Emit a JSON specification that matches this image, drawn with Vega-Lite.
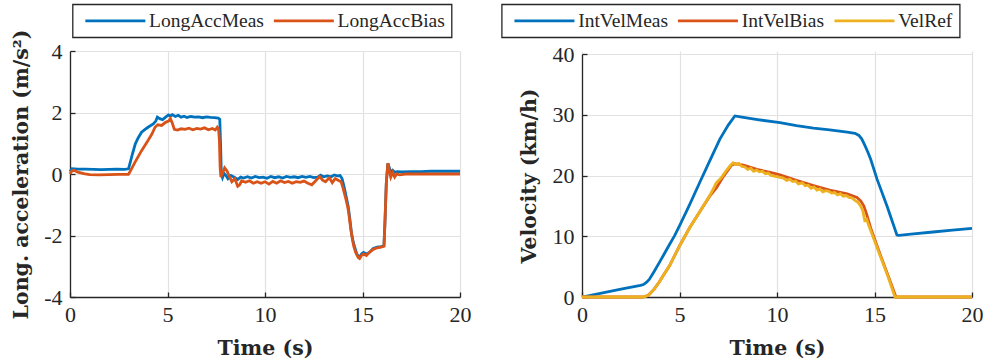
{
  "$schema": "https://vega.github.io/schema/vega-lite/v6.json",
  "background": "white",
  "padding": {"left": 11, "top": 3, "right": 5, "bottom": 0},
  "spacing": 30,
  "config": {
    "view": {"stroke": null},
    "axis": {
      "labelFont": "Liberation Serif", "labelFontSize": 22, "labelColor": "#262626",
      "titleFont": "DejaVu Serif", "titleFontWeight": "bold", "titleFontSize": 20.5, "titleColor": "#262626",
      "domainColor": "#262626", "domainWidth": 1.3, "tickColor": "#262626", "tickWidth": 1.3, "tickSize": -5,
      "gridColor": "#e2e2e2", "gridWidth": 1.2, "labelFlush": false, "labelOverlap": false
    },
    "axisX": {"labelPadding": 12, "titlePadding": 13},
    "axisY": {"labelPadding": 13, "titlePadding": 12.5},
    "legend": {
      "orient": "none", "direction": "horizontal",
      "labelFont": "Liberation Serif", "labelFontSize": 19.5, "labelColor": "#262626",
      "symbolType": "M-0.5,0H8.07", "symbolSize": 196, "symbolStrokeWidth": 3,
      "labelOffset": 50.5, "columnPadding": 3.5, "padding": 6.5,
      "strokeColor": "#262626", "fillColor": "white", "strokeWidth": 1.3, "title": null
    },
    "line": {"strokeWidth": 2.8}
  },
  "datasets": {
    "acc": [
      {"time":0,"value":0.08,"series":"LongAccMeas"},{"time":0.1,"value":0.17,"series":"LongAccMeas"},{"time":0.4,"value":0.16,"series":"LongAccMeas"},{"time":0.8,"value":0.16,"series":"LongAccMeas"},{"time":1.2,"value":0.15,"series":"LongAccMeas"},{"time":1.6,"value":0.14,"series":"LongAccMeas"},{"time":2.0,"value":0.15,"series":"LongAccMeas"},{"time":2.4,"value":0.16,"series":"LongAccMeas"},{"time":2.8,"value":0.15,"series":"LongAccMeas"},{"time":3.0,"value":0.17,"series":"LongAccMeas"},{"time":3.1,"value":0.4,"series":"LongAccMeas"},{"time":3.2,"value":0.65,"series":"LongAccMeas"},{"time":3.35,"value":0.98,"series":"LongAccMeas"},{"time":3.5,"value":1.18,"series":"LongAccMeas"},{"time":3.67,"value":1.36,"series":"LongAccMeas"},{"time":3.85,"value":1.45,"series":"LongAccMeas"},{"time":4.0,"value":1.52,"series":"LongAccMeas"},{"time":4.27,"value":1.63,"series":"LongAccMeas"},{"time":4.4,"value":1.72,"series":"LongAccMeas"},{"time":4.48,"value":1.85,"series":"LongAccMeas"},{"time":4.6,"value":1.8,"series":"LongAccMeas"},{"time":4.75,"value":1.77,"series":"LongAccMeas"},{"time":4.9,"value":1.85,"series":"LongAccMeas"},{"time":5.05,"value":1.92,"series":"LongAccMeas"},{"time":5.15,"value":1.88,"series":"LongAccMeas"},{"time":5.25,"value":1.93,"series":"LongAccMeas"},{"time":5.4,"value":1.87,"series":"LongAccMeas"},{"time":5.55,"value":1.91,"series":"LongAccMeas"},{"time":5.7,"value":1.85,"series":"LongAccMeas"},{"time":5.85,"value":1.88,"series":"LongAccMeas"},{"time":6.0,"value":1.84,"series":"LongAccMeas"},{"time":6.2,"value":1.87,"series":"LongAccMeas"},{"time":6.4,"value":1.85,"series":"LongAccMeas"},{"time":6.6,"value":1.86,"series":"LongAccMeas"},{"time":6.8,"value":1.83,"series":"LongAccMeas"},{"time":7.0,"value":1.86,"series":"LongAccMeas"},{"time":7.2,"value":1.84,"series":"LongAccMeas"},{"time":7.4,"value":1.83,"series":"LongAccMeas"},{"time":7.6,"value":1.82,"series":"LongAccMeas"},{"time":7.68,"value":1.78,"series":"LongAccMeas"},{"time":7.72,"value":1.0,"series":"LongAccMeas"},{"time":7.76,"value":0.0,"series":"LongAccMeas"},{"time":7.82,"value":-0.12,"series":"LongAccMeas"},{"time":7.9,"value":0.02,"series":"LongAccMeas"},{"time":8.0,"value":-0.05,"series":"LongAccMeas"},{"time":8.1,"value":-0.15,"series":"LongAccMeas"},{"time":8.25,"value":-0.05,"series":"LongAccMeas"},{"time":8.4,"value":-0.1,"series":"LongAccMeas"},{"time":8.6,"value":-0.18,"series":"LongAccMeas"},{"time":8.75,"value":-0.1,"series":"LongAccMeas"},{"time":8.9,"value":-0.13,"series":"LongAccMeas"},{"time":9.1,"value":-0.09,"series":"LongAccMeas"},{"time":9.3,"value":-0.13,"series":"LongAccMeas"},{"time":9.5,"value":-0.08,"series":"LongAccMeas"},{"time":9.7,"value":-0.12,"series":"LongAccMeas"},{"time":9.9,"value":-0.1,"series":"LongAccMeas"},{"time":10.1,"value":-0.14,"series":"LongAccMeas"},{"time":10.3,"value":-0.08,"series":"LongAccMeas"},{"time":10.5,"value":-0.12,"series":"LongAccMeas"},{"time":10.7,"value":-0.09,"series":"LongAccMeas"},{"time":10.9,"value":-0.13,"series":"LongAccMeas"},{"time":11.1,"value":-0.08,"series":"LongAccMeas"},{"time":11.3,"value":-0.11,"series":"LongAccMeas"},{"time":11.5,"value":-0.09,"series":"LongAccMeas"},{"time":11.7,"value":-0.12,"series":"LongAccMeas"},{"time":11.9,"value":-0.08,"series":"LongAccMeas"},{"time":12.1,"value":-0.11,"series":"LongAccMeas"},{"time":12.3,"value":-0.08,"series":"LongAccMeas"},{"time":12.5,"value":-0.12,"series":"LongAccMeas"},{"time":12.7,"value":-0.1,"series":"LongAccMeas"},{"time":12.85,"value":-0.04,"series":"LongAccMeas"},{"time":13.0,"value":-0.09,"series":"LongAccMeas"},{"time":13.2,"value":-0.06,"series":"LongAccMeas"},{"time":13.4,"value":-0.09,"series":"LongAccMeas"},{"time":13.55,"value":-0.03,"series":"LongAccMeas"},{"time":13.7,"value":-0.06,"series":"LongAccMeas"},{"time":13.85,"value":-0.05,"series":"LongAccMeas"},{"time":13.95,"value":-0.15,"series":"LongAccMeas"},{"time":14.05,"value":-0.4,"series":"LongAccMeas"},{"time":14.15,"value":-0.7,"series":"LongAccMeas"},{"time":14.26,"value":-1.03,"series":"LongAccMeas"},{"time":14.35,"value":-1.45,"series":"LongAccMeas"},{"time":14.43,"value":-1.9,"series":"LongAccMeas"},{"time":14.52,"value":-2.2,"series":"LongAccMeas"},{"time":14.6,"value":-2.38,"series":"LongAccMeas"},{"time":14.72,"value":-2.62,"series":"LongAccMeas"},{"time":14.85,"value":-2.71,"series":"LongAccMeas"},{"time":14.95,"value":-2.6,"series":"LongAccMeas"},{"time":15.05,"value":-2.55,"series":"LongAccMeas"},{"time":15.2,"value":-2.6,"series":"LongAccMeas"},{"time":15.35,"value":-2.55,"series":"LongAccMeas"},{"time":15.55,"value":-2.42,"series":"LongAccMeas"},{"time":15.75,"value":-2.38,"series":"LongAccMeas"},{"time":15.95,"value":-2.36,"series":"LongAccMeas"},{"time":16.1,"value":-2.33,"series":"LongAccMeas"},{"time":16.15,"value":-1.6,"series":"LongAccMeas"},{"time":16.22,"value":-0.3,"series":"LongAccMeas"},{"time":16.3,"value":0.35,"series":"LongAccMeas"},{"time":16.38,"value":0.2,"series":"LongAccMeas"},{"time":16.45,"value":0.05,"series":"LongAccMeas"},{"time":16.55,"value":0.12,"series":"LongAccMeas"},{"time":16.65,"value":0.06,"series":"LongAccMeas"},{"time":16.8,"value":0.08,"series":"LongAccMeas"},{"time":17.0,"value":0.07,"series":"LongAccMeas"},{"time":17.5,"value":0.08,"series":"LongAccMeas"},{"time":18.0,"value":0.08,"series":"LongAccMeas"},{"time":18.5,"value":0.09,"series":"LongAccMeas"},{"time":19.0,"value":0.09,"series":"LongAccMeas"},{"time":19.5,"value":0.09,"series":"LongAccMeas"},{"time":20.0,"value":0.09,"series":"LongAccMeas"},
      {"time":0,"value":0.0,"series":"LongAccBias"},{"time":0.1,"value":0.1,"series":"LongAccBias"},{"time":0.2,"value":0.12,"series":"LongAccBias"},{"time":0.4,"value":0.06,"series":"LongAccBias"},{"time":0.7,"value":0.01,"series":"LongAccBias"},{"time":1.0,"value":-0.02,"series":"LongAccBias"},{"time":1.5,"value":-0.03,"series":"LongAccBias"},{"time":2.0,"value":-0.02,"series":"LongAccBias"},{"time":2.5,"value":-0.01,"series":"LongAccBias"},{"time":3.0,"value":-0.01,"series":"LongAccBias"},{"time":3.1,"value":0.1,"series":"LongAccBias"},{"time":3.33,"value":0.38,"series":"LongAccBias"},{"time":3.67,"value":0.76,"series":"LongAccBias"},{"time":4.0,"value":1.09,"series":"LongAccBias"},{"time":4.2,"value":1.3,"series":"LongAccBias"},{"time":4.36,"value":1.52,"series":"LongAccBias"},{"time":4.5,"value":1.6,"series":"LongAccBias"},{"time":4.7,"value":1.58,"series":"LongAccBias"},{"time":4.9,"value":1.68,"series":"LongAccBias"},{"time":5.05,"value":1.72,"series":"LongAccBias"},{"time":5.15,"value":1.8,"series":"LongAccBias"},{"time":5.25,"value":1.65,"series":"LongAccBias"},{"time":5.35,"value":1.45,"series":"LongAccBias"},{"time":5.5,"value":1.43,"series":"LongAccBias"},{"time":5.7,"value":1.47,"series":"LongAccBias"},{"time":5.9,"value":1.45,"series":"LongAccBias"},{"time":6.1,"value":1.49,"series":"LongAccBias"},{"time":6.3,"value":1.44,"series":"LongAccBias"},{"time":6.5,"value":1.48,"series":"LongAccBias"},{"time":6.7,"value":1.46,"series":"LongAccBias"},{"time":6.9,"value":1.5,"series":"LongAccBias"},{"time":7.1,"value":1.44,"series":"LongAccBias"},{"time":7.3,"value":1.48,"series":"LongAccBias"},{"time":7.45,"value":1.43,"series":"LongAccBias"},{"time":7.55,"value":1.52,"series":"LongAccBias"},{"time":7.62,"value":1.45,"series":"LongAccBias"},{"time":7.66,"value":1.1,"series":"LongAccBias"},{"time":7.7,"value":0.2,"series":"LongAccBias"},{"time":7.74,"value":-0.1,"series":"LongAccBias"},{"time":7.8,"value":0.0,"series":"LongAccBias"},{"time":7.93,"value":0.2,"series":"LongAccBias"},{"time":8.05,"value":0.1,"series":"LongAccBias"},{"time":8.15,"value":-0.05,"series":"LongAccBias"},{"time":8.3,"value":-0.25,"series":"LongAccBias"},{"time":8.45,"value":-0.15,"series":"LongAccBias"},{"time":8.6,"value":-0.4,"series":"LongAccBias"},{"time":8.7,"value":-0.35,"series":"LongAccBias"},{"time":8.8,"value":-0.22,"series":"LongAccBias"},{"time":9.0,"value":-0.27,"series":"LongAccBias"},{"time":9.2,"value":-0.22,"series":"LongAccBias"},{"time":9.4,"value":-0.3,"series":"LongAccBias"},{"time":9.6,"value":-0.25,"series":"LongAccBias"},{"time":9.8,"value":-0.3,"series":"LongAccBias"},{"time":10.0,"value":-0.25,"series":"LongAccBias"},{"time":10.2,"value":-0.33,"series":"LongAccBias"},{"time":10.4,"value":-0.24,"series":"LongAccBias"},{"time":10.6,"value":-0.3,"series":"LongAccBias"},{"time":10.8,"value":-0.22,"series":"LongAccBias"},{"time":11.0,"value":-0.28,"series":"LongAccBias"},{"time":11.2,"value":-0.24,"series":"LongAccBias"},{"time":11.4,"value":-0.3,"series":"LongAccBias"},{"time":11.6,"value":-0.25,"series":"LongAccBias"},{"time":11.8,"value":-0.27,"series":"LongAccBias"},{"time":12.0,"value":-0.23,"series":"LongAccBias"},{"time":12.2,"value":-0.3,"series":"LongAccBias"},{"time":12.4,"value":-0.35,"series":"LongAccBias"},{"time":12.6,"value":-0.22,"series":"LongAccBias"},{"time":12.8,"value":-0.08,"series":"LongAccBias"},{"time":12.95,"value":-0.2,"series":"LongAccBias"},{"time":13.1,"value":-0.25,"series":"LongAccBias"},{"time":13.3,"value":-0.12,"series":"LongAccBias"},{"time":13.45,"value":-0.28,"series":"LongAccBias"},{"time":13.6,"value":-0.15,"series":"LongAccBias"},{"time":13.75,"value":-0.2,"series":"LongAccBias"},{"time":13.9,"value":-0.25,"series":"LongAccBias"},{"time":14.0,"value":-0.45,"series":"LongAccBias"},{"time":14.1,"value":-0.7,"series":"LongAccBias"},{"time":14.2,"value":-0.95,"series":"LongAccBias"},{"time":14.28,"value":-1.2,"series":"LongAccBias"},{"time":14.36,"value":-1.6,"series":"LongAccBias"},{"time":14.45,"value":-2.0,"series":"LongAccBias"},{"time":14.55,"value":-2.35,"series":"LongAccBias"},{"time":14.65,"value":-2.55,"series":"LongAccBias"},{"time":14.78,"value":-2.72,"series":"LongAccBias"},{"time":14.85,"value":-2.75,"series":"LongAccBias"},{"time":14.95,"value":-2.65,"series":"LongAccBias"},{"time":15.05,"value":-2.6,"series":"LongAccBias"},{"time":15.2,"value":-2.65,"series":"LongAccBias"},{"time":15.35,"value":-2.55,"series":"LongAccBias"},{"time":15.55,"value":-2.45,"series":"LongAccBias"},{"time":15.75,"value":-2.4,"series":"LongAccBias"},{"time":15.95,"value":-2.38,"series":"LongAccBias"},{"time":16.1,"value":-2.35,"series":"LongAccBias"},{"time":16.15,"value":-1.6,"series":"LongAccBias"},{"time":16.22,"value":-0.3,"series":"LongAccBias"},{"time":16.3,"value":0.35,"series":"LongAccBias"},{"time":16.38,"value":0.1,"series":"LongAccBias"},{"time":16.45,"value":-0.1,"series":"LongAccBias"},{"time":16.55,"value":0.05,"series":"LongAccBias"},{"time":16.65,"value":-0.1,"series":"LongAccBias"},{"time":16.75,"value":0.0,"series":"LongAccBias"},{"time":16.9,"value":-0.03,"series":"LongAccBias"},{"time":17.2,"value":0.0,"series":"LongAccBias"},{"time":17.6,"value":0.0,"series":"LongAccBias"},{"time":18.0,"value":0.0,"series":"LongAccBias"},{"time":19.0,"value":0.0,"series":"LongAccBias"},{"time":20.0,"value":0.0,"series":"LongAccBias"}
    ],
    "vel": [
      {"time":0,"value":0,"series":"IntVelMeas"},{"time":1,"value":0.65,"series":"IntVelMeas"},{"time":2,"value":1.3,"series":"IntVelMeas"},{"time":3,"value":1.9,"series":"IntVelMeas"},{"time":3.15,"value":2.05,"series":"IntVelMeas"},{"time":3.3,"value":2.4,"series":"IntVelMeas"},{"time":3.45,"value":2.9,"series":"IntVelMeas"},{"time":3.7,"value":4.2,"series":"IntVelMeas"},{"time":3.97,"value":5.7,"series":"IntVelMeas"},{"time":4.2,"value":7.0,"series":"IntVelMeas"},{"time":4.48,"value":8.6,"series":"IntVelMeas"},{"time":4.75,"value":10.1,"series":"IntVelMeas"},{"time":5.0,"value":11.7,"series":"IntVelMeas"},{"time":5.52,"value":15.2,"series":"IntVelMeas"},{"time":6.03,"value":18.8,"series":"IntVelMeas"},{"time":6.55,"value":22.4,"series":"IntVelMeas"},{"time":7.07,"value":26.0,"series":"IntVelMeas"},{"time":7.5,"value":28.3,"series":"IntVelMeas"},{"time":7.84,"value":29.8,"series":"IntVelMeas"},{"time":8.2,"value":29.6,"series":"IntVelMeas"},{"time":9.0,"value":29.2,"series":"IntVelMeas"},{"time":10.15,"value":28.7,"series":"IntVelMeas"},{"time":11.0,"value":28.2,"series":"IntVelMeas"},{"time":11.87,"value":27.8,"series":"IntVelMeas"},{"time":12.7,"value":27.5,"series":"IntVelMeas"},{"time":13.6,"value":27.15,"series":"IntVelMeas"},{"time":14.0,"value":26.95,"series":"IntVelMeas"},{"time":14.2,"value":26.6,"series":"IntVelMeas"},{"time":14.35,"value":26.0,"series":"IntVelMeas"},{"time":14.5,"value":25.0,"series":"IntVelMeas"},{"time":14.65,"value":23.9,"series":"IntVelMeas"},{"time":14.8,"value":22.7,"series":"IntVelMeas"},{"time":15.13,"value":19.4,"series":"IntVelMeas"},{"time":15.65,"value":14.9,"series":"IntVelMeas"},{"time":16.15,"value":10.2,"series":"IntVelMeas"},{"time":16.25,"value":10.15,"series":"IntVelMeas"},{"time":17,"value":10.4,"series":"IntVelMeas"},{"time":18,"value":10.7,"series":"IntVelMeas"},{"time":19,"value":11.0,"series":"IntVelMeas"},{"time":20,"value":11.3,"series":"IntVelMeas"},
      {"time":0,"value":0,"series":"IntVelBias"},{"time":3.1,"value":0,"series":"IntVelBias"},{"time":3.3,"value":0.15,"series":"IntVelBias"},{"time":3.45,"value":0.44,"series":"IntVelBias"},{"time":3.7,"value":1.3,"series":"IntVelBias"},{"time":3.97,"value":2.5,"series":"IntVelBias"},{"time":4.2,"value":3.7,"series":"IntVelBias"},{"time":4.48,"value":5.1,"series":"IntVelBias"},{"time":4.75,"value":6.8,"series":"IntVelBias"},{"time":5.0,"value":8.4,"series":"IntVelBias"},{"time":5.52,"value":11.4,"series":"IntVelBias"},{"time":6.03,"value":14.0,"series":"IntVelBias"},{"time":6.55,"value":16.6,"series":"IntVelBias"},{"time":6.9,"value":18.0,"series":"IntVelBias"},{"time":7.2,"value":19.6,"series":"IntVelBias"},{"time":7.67,"value":21.7,"series":"IntVelBias"},{"time":7.84,"value":21.95,"series":"IntVelBias"},{"time":8.28,"value":21.7,"series":"IntVelBias"},{"time":8.97,"value":21.0,"series":"IntVelBias"},{"time":9.66,"value":20.5,"series":"IntVelBias"},{"time":10.15,"value":20.1,"series":"IntVelBias"},{"time":11.0,"value":19.2,"series":"IntVelBias"},{"time":11.87,"value":18.35,"series":"IntVelBias"},{"time":12.7,"value":17.6,"series":"IntVelBias"},{"time":13.6,"value":17.0,"series":"IntVelBias"},{"time":14.1,"value":16.4,"series":"IntVelBias"},{"time":14.3,"value":15.8,"series":"IntVelBias"},{"time":14.45,"value":15.0,"series":"IntVelBias"},{"time":14.6,"value":13.6,"series":"IntVelBias"},{"time":14.8,"value":11.4,"series":"IntVelBias"},{"time":15.3,"value":6.9,"series":"IntVelBias"},{"time":15.7,"value":3.5,"series":"IntVelBias"},{"time":16.1,"value":0,"series":"IntVelBias"},{"time":20,"value":0,"series":"IntVelBias"},
      {"time":0,"value":0,"series":"VelRef"},{"time":3.1,"value":0,"series":"VelRef"},{"time":3.3,"value":0.15,"series":"VelRef"},{"time":3.45,"value":0.44,"series":"VelRef"},{"time":3.7,"value":1.3,"series":"VelRef"},{"time":3.97,"value":2.5,"series":"VelRef"},{"time":4.2,"value":3.7,"series":"VelRef"},{"time":4.48,"value":5.1,"series":"VelRef"},{"time":4.75,"value":6.8,"series":"VelRef"},{"time":5.0,"value":8.4,"series":"VelRef"},{"time":5.52,"value":11.4,"series":"VelRef"},{"time":6.03,"value":14.0,"series":"VelRef"},{"time":6.55,"value":16.7,"series":"VelRef"},{"time":6.75,"value":17.9,"series":"VelRef"},{"time":6.85,"value":18.6,"series":"VelRef"},{"time":6.95,"value":19.0,"series":"VelRef"},{"time":7.05,"value":19.3,"series":"VelRef"},{"time":7.2,"value":19.9,"series":"VelRef"},{"time":7.4,"value":20.8,"series":"VelRef"},{"time":7.6,"value":21.6,"series":"VelRef"},{"time":7.75,"value":22.1,"series":"VelRef"},{"time":7.9,"value":21.8,"series":"VelRef"},{"time":8.05,"value":22.0,"series":"VelRef"},{"time":8.2,"value":21.5,"series":"VelRef"},{"time":8.35,"value":21.4,"series":"VelRef"},{"time":8.5,"value":21.0,"series":"VelRef"},{"time":8.65,"value":21.2,"series":"VelRef"},{"time":8.8,"value":20.7,"series":"VelRef"},{"time":8.95,"value":20.9,"series":"VelRef"},{"time":9.1,"value":20.6,"series":"VelRef"},{"time":9.25,"value":20.7,"series":"VelRef"},{"time":9.4,"value":20.3,"series":"VelRef"},{"time":9.55,"value":20.4,"series":"VelRef"},{"time":9.7,"value":20.0,"series":"VelRef"},{"time":9.85,"value":19.9,"series":"VelRef"},{"time":10.0,"value":19.8,"series":"VelRef"},{"time":10.15,"value":19.7,"series":"VelRef"},{"time":10.3,"value":19.6,"series":"VelRef"},{"time":10.5,"value":19.2,"series":"VelRef"},{"time":10.65,"value":19.4,"series":"VelRef"},{"time":10.8,"value":19.0,"series":"VelRef"},{"time":10.95,"value":19.1,"series":"VelRef"},{"time":11.1,"value":18.6,"series":"VelRef"},{"time":11.3,"value":18.8,"series":"VelRef"},{"time":11.45,"value":18.3,"series":"VelRef"},{"time":11.6,"value":18.4,"series":"VelRef"},{"time":11.75,"value":17.9,"series":"VelRef"},{"time":11.9,"value":18.1,"series":"VelRef"},{"time":12.05,"value":17.6,"series":"VelRef"},{"time":12.2,"value":17.8,"series":"VelRef"},{"time":12.35,"value":17.3,"series":"VelRef"},{"time":12.5,"value":17.5,"series":"VelRef"},{"time":12.65,"value":17.4,"series":"VelRef"},{"time":12.8,"value":17.1,"series":"VelRef"},{"time":12.95,"value":17.2,"series":"VelRef"},{"time":13.1,"value":16.8,"series":"VelRef"},{"time":13.25,"value":17.0,"series":"VelRef"},{"time":13.4,"value":16.6,"series":"VelRef"},{"time":13.55,"value":16.7,"series":"VelRef"},{"time":13.7,"value":16.4,"series":"VelRef"},{"time":13.85,"value":16.3,"series":"VelRef"},{"time":14.0,"value":15.9,"series":"VelRef"},{"time":14.15,"value":15.6,"series":"VelRef"},{"time":14.3,"value":14.9,"series":"VelRef"},{"time":14.4,"value":14.2,"series":"VelRef"},{"time":14.5,"value":12.6,"series":"VelRef"},{"time":14.6,"value":12.8,"series":"VelRef"},{"time":14.7,"value":11.8,"series":"VelRef"},{"time":14.8,"value":11.0,"series":"VelRef"},{"time":15.3,"value":6.7,"series":"VelRef"},{"time":15.7,"value":3.3,"series":"VelRef"},{"time":16.05,"value":0,"series":"VelRef"},{"time":20,"value":0,"series":"VelRef"}
    ]
  },
  "hconcat": [
    {
      "width": 390, "height": 246,
      "data": {"name": "acc"},
      "encoding": {
        "x": {"field": "time", "type": "quantitative", "scale": {"domain": [0, 20], "nice": false}, "axis": {"values": [0, 5, 10, 15, 20], "title": "Time (s)"}},
        "y": {"field": "value", "type": "quantitative", "scale": {"domain": [-4, 4], "nice": false}, "axis": {"values": [-4, -2, 0, 2, 4], "title": "Long. acceleration (m/s²)", "labelExpr": "replace(datum.label, '−', '-')"}},
        "color": {"field": "series", "type": "nominal", "scale": {"domain": ["LongAccMeas", "LongAccBias"], "range": ["#0072BD", "#D95319"]}, "legend": {"legendX": 2.6, "legendY": -46.7}}
      },
      "layer": [
        {"transform": [{"filter": "datum.series === 'LongAccMeas'"}], "mark": {"type": "line"}},
        {"transform": [{"filter": "datum.series === 'LongAccBias'"}], "mark": {"type": "line"}}
      ]
    },
    {
      "width": 390, "height": 246,
      "data": {"name": "vel"},
      "encoding": {
        "x": {"field": "time", "type": "quantitative", "scale": {"domain": [0, 20], "nice": false}, "axis": {"values": [0, 5, 10, 15, 20], "title": "Time (s)"}},
        "y": {"field": "value", "type": "quantitative", "scale": {"domain": [0, 40], "nice": false, "range": [246, 3]}, "axis": {"values": [0, 10, 20, 30, 40], "title": "Velocity (km/h)"}},
        "color": {"field": "series", "type": "nominal", "scale": {"domain": ["IntVelMeas", "IntVelBias", "VelRef"], "range": ["#0072BD", "#D95319", "#EDB120"]}, "legend": {"legendX": -80.3, "legendY": -46.7}}
      },
      "layer": [
        {"transform": [{"filter": "datum.series === 'IntVelMeas'"}], "mark": {"type": "line"}},
        {"transform": [{"filter": "datum.series === 'IntVelBias'"}], "mark": {"type": "line"}},
        {"transform": [{"filter": "datum.series === 'VelRef'"}], "mark": {"type": "line"}}
      ]
    }
  ],
  "resolve": {"scale": {"color": "independent"}}
}
